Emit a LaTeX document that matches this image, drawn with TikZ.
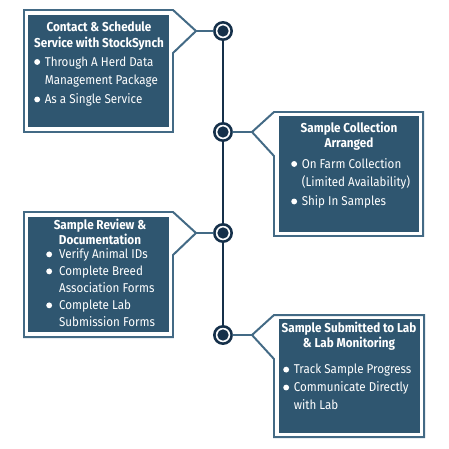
\documentclass[tikz,border=0pt]{standalone}
\usepackage{fontspec}
\setmainfont{Fira Sans}[FakeStretch=0.91]
\usetikzlibrary{positioning}
\definecolor{slate}{HTML}{2F5670}
\definecolor{rim}{HTML}{436A85}
\definecolor{navy}{HTML}{15304A}
\newcommand{\blt}{\tikz[baseline=-0.6ex]\fill[white] (0,0) circle (2.5pt);}
\tikzset{
  panel/.style={fill=slate, inner sep=0pt, minimum width=4.2cm},
  frame/.style={draw=rim, line width=1.7pt, line join=miter},
  link/.style={draw=rim, line width=1.7pt},
  spine/.style={draw=navy, line width=1.8pt},
  ring/.style={circle, draw=navy, fill=white, line width=2.2pt, minimum size=0.52cm, inner sep=0pt,
    path picture={\fill[navy] (path picture bounding box.center) circle (0.17cm);}},
  title/.style={text=white, align=center, inner sep=0pt, font=\bfseries\fontsize{11}{13.2}\selectfont},
  items/.style={text=white, inner sep=0pt, anchor=west, font=\fontsize{10.9}{16}\selectfont}
}
\begin{document}
\begin{tikzpicture}[x=0.03cm, y=-0.03cm, line cap=round]
\useasboundingbox (0,0) rectangle (449,449);
% timeline
\node[ring] (c1) at (223,31) {};
\node[ring] (c2) at (223,132) {};
\node[ring] (c3) at (223,233) {};
\node[ring] (c4) at (223,335) {};
\draw[spine] (c1) -- (c2);
\draw[spine] (c2) -- (c3);
\draw[spine] (c3) -- (c4);
% outlines
\draw[frame] (24,10) -- (173,10) -- (196,31) -- (173,53) -- (173,132) -- (24,132) -- cycle;
\draw[frame] (423,112) -- (274,112) -- (252,132) -- (274,156) -- (274,236) -- (423,236) -- cycle;
\draw[frame] (24,212) -- (173,212) -- (196,233) -- (173,255) -- (173,337) -- (24,337) -- cycle;
\draw[frame] (424,315) -- (274,315) -- (252,335) -- (274,359) -- (274,437) -- (424,437) -- cycle;
\coordinate (p1) at (196,31);
\coordinate (p2) at (252,132);
\coordinate (p3) at (196,233);
\coordinate (p4) at (252,335);
\draw[link] (p1) -- (c1);
\draw[link] (c2) -- (p2);
\draw[link] (p3) -- (c3);
\draw[link] (c4) -- (p4);
% panels
\node[panel, minimum height=3.36cm] (b1) at (98.5,71) {};
\node[panel, minimum height=3.48cm] (b2) at (349,174) {};
\node[panel, minimum height=3.45cm] (b3) at (98.5,274.5) {};
\node[panel, minimum height=3.42cm, minimum width=4.23cm] (b4) at (349.5,376) {};
% texts
\node[title] (t1) at (99,36) {Contact \& Schedule\\Service with StockSynch};
\node[items] (l1) at (34,81) {\begin{tabular}{@{}c@{\hspace{4pt}}l@{}}
  \blt & Through A Herd Data\\ & Management Package\\ \blt & As a Single Service\end{tabular}};
\node[title] (t2) at (349,136) {Sample Collection\\Arranged};
\node[items] (l2) at (291,183) {\begin{tabular}{@{}c@{\hspace{4pt}}l@{}}
  \blt & On Farm Collection\\ & (Limited Availability)\\ \blt & Ship In Samples\end{tabular}};
\node[title] (t3) at (100,232) {Sample Review \&\\Documentation};
\node[items, font=\fontsize{10.9}{14.5}\selectfont] (l3) at (46,289) {\begin{tabular}{@{}c@{\hspace{6pt}}l@{}}
  \blt & Verify Animal IDs\\ \blt & Complete Breed\\ & Association Forms\\
  \blt & Complete Lab\\ & Submission Forms\end{tabular}};
\node[title] (t4) at (349,336) {Sample Submitted to Lab\\\& Lab Monitoring};
\node[items, font=\fontsize{10.9}{15.3}\selectfont] (l4) at (283,388) {\begin{tabular}{@{}c@{\hspace{4pt}}l@{}}
  \blt & Track Sample Progress\\ \blt & Communicate Directly\\ & with Lab\end{tabular}};
\end{tikzpicture}
\end{document}
